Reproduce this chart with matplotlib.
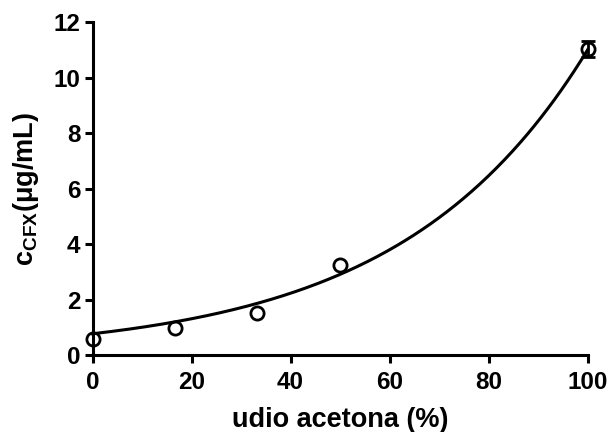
import numpy as np
import matplotlib
matplotlib.use("Agg")
import matplotlib.pyplot as plt

# Data
acetone_pct = [0, 16.7, 33.3, 50, 100]
conc = [0.57, 0.97, 1.51, 3.25, 11.04]
conc_err = [0, 0, 0, 0, 0.30]

# Exponential fit  y = a * exp(b * x)
fit_a = 0.77
fit_b = 0.0266

x_ticks = [0, 20, 40, 60, 80, 100]
y_ticks = [0, 2, 4, 6, 8, 10, 12]

plt.rcParams['font.family'] = ['Liberation Sans', 'DejaVu Sans']
plt.rcParams['font.weight'] = 'bold'
plt.rcParams['mathtext.fontset'] = 'custom'
plt.rcParams['mathtext.rm'] = 'Liberation Sans:bold'
plt.rcParams['mathtext.bf'] = 'Liberation Sans:bold'

fig = plt.figure(figsize=(6.09, 4.32), dpi=100)
ax = fig.add_axes([0.1519, 0.178, 0.8128, 0.770])

xs = np.linspace(0, 100, 300)
ax.plot(xs, fit_a * np.exp(fit_b * xs), color='black', lw=2.2, clip_on=False, zorder=3)

ex = [x for x, e in zip(acetone_pct, conc_err) if e > 0]
ey = [y for y, e in zip(conc, conc_err) if e > 0]
ee = [e for e in conc_err if e > 0]
ax.errorbar(ex, ey, yerr=ee, fmt='none', ecolor='black',
            elinewidth=2.0, capsize=4.7, capthick=2.0, clip_on=False, zorder=4)
ax.plot(acetone_pct, conc, linestyle='none', marker='o', markersize=9.5,
        markerfacecolor='none', markeredgecolor='black', markeredgewidth=2.0,
        clip_on=False, zorder=5)

ax.set_xlim(0, 100)
ax.set_ylim(0, 12)
ax.set_xticks(x_ticks)
ax.set_yticks(y_ticks)

for s in ['top', 'right']:
    ax.spines[s].set_visible(False)
for s in ['left', 'bottom']:
    ax.spines[s].set_linewidth(2.2)

ax.tick_params(axis='both', direction='out', length=5.8, width=2.2, labelsize=17.5)
ax.tick_params(axis='x', pad=6)
ax.tick_params(axis='y', pad=3)

ax.set_xlabel('udio acetona (%)', fontsize=19.5, fontweight='bold')
ax.set_ylabel(r'c$\mathrm{_{CFX}}$(μg/mL)', fontsize=19.5, fontweight='bold')
ax.xaxis.set_label_coords(0.5, -0.156)
ax.yaxis.set_label_coords(-0.104, 0.5)

fig.savefig('out.png', dpi=100)
